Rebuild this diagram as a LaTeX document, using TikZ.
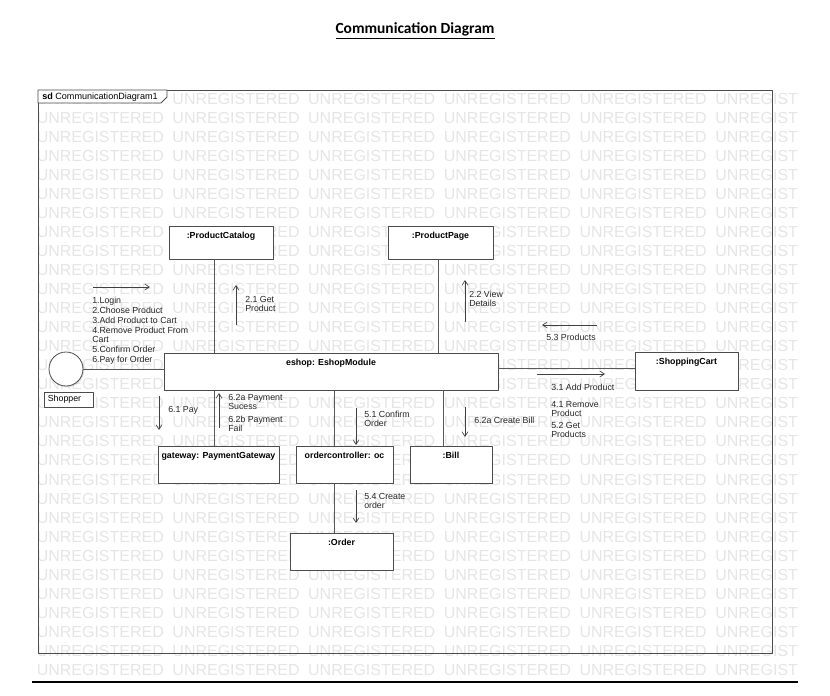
\documentclass[tikz,border=0pt]{standalone}
\usepackage{fontspec}
\setmainfont{Liberation Sans}
\newfontfamily\titlefont{Carlito}
\usetikzlibrary{arrows.meta,shadows}

\begin{document}
\begin{tikzpicture}[x=0.75pt, y=-0.75pt, line join=round,
    objsize/.style 2 args={minimum width=#1*0.75pt, minimum height=#2*0.75pt},
    obj/.style={draw=black!70, fill=white, line width=0.6pt, inner sep=0pt,
      drop shadow={shadow xshift=0.9pt, shadow yshift=-0.9pt, opacity=0.25}},
    objname/.style={anchor=north, inner sep=0pt, yshift=-4.7pt,
      font=\fontsize{6.6}{6.75}\selectfont\bfseries},
    link/.style={draw=black!65, line width=0.6pt},
    msg/.style={black!75, line width=0.5pt,
      -{Straight Barb[length=3.5pt, width=4.5pt]}},
    msgtext/.style={anchor=north west, inner sep=0pt, align=left, text=black!85,
      font=\fontsize{6.6}{6.75}\selectfont},
    watermark/.style={anchor=base west, inner sep=0pt, text=black!10,
      font=\fontsize{12}{12}\selectfont}]

  \useasboundingbox (0,0) rectangle (830,695);

  % Title
  \node[anchor=base, inner sep=0pt,
    font=\titlefont\fontsize{11.6}{14}\selectfont\bfseries] (title)
    at (415,34) {\underline{Communication Diagram}};

  % Watermark
  \begin{scope}
    \clip (34,91) rectangle (797,680);
    \foreach \r in {0,...,30}
      \foreach \c in {0,...,5}
        \node[watermark] (wm-\r-\c) at (36.5+135.7*\c, 104.8+19.01*\r) {UNREGISTERED};
  \end{scope}

  % Frame
  \draw[black!70, line width=0.6pt] (38,90) rectangle (772,653);
  \draw[black!70, line width=0.6pt, fill=white]
    (38,90) -- (167,90) -- (167,97) -- (161,103) -- (38,103) -- cycle;
  \node[anchor=west, inner sep=0pt, font=\fontsize{6.8}{7}\selectfont] (frame name)
    at (42,96.7) {\textbf{sd} CommunicationDiagram1};

  % Objects
  \node[obj, objsize={104}{33}, label={[objname]north:{:ProductCatalog}}] (catalog) at (221,242.5) {};
  \node[obj, objsize={105}{33}, label={[objname]north:{:ProductPage}}] (page) at (440.5,242.5) {};
  \node[obj, objsize={334}{37}, label={[objname]north:{eshop: EshopModule}}] (eshop) at (331,371.5) {};
  \node[obj, objsize={103}{38}, label={[objname]north:{:ShoppingCart}}] (cart) at (686.5,371) {};
  \node[obj, objsize={121}{37}, label={[objname]north:{gateway: PaymentGateway}}] (gateway) at (218.5,464.5) {};
  \node[obj, objsize={97}{37}, label={[objname]north:{ordercontroller: oc}}] (oc) at (344.5,464.5) {};
  \node[obj, objsize={82}{37}, label={[objname]north:{:Bill}}] (bill) at (451,464.5) {};
  \node[obj, objsize={103}{37}, label={[objname]north:{:Order}}] (order) at (341.5,551.5) {};

  % Actor
  \node[obj, circle, minimum size=34*0.75pt] (shopper) at (66,369) {};
  \node[obj, objsize={49}{15}, label={[anchor=west, inner sep=0pt, xshift=3pt,
    font=\fontsize{6.6}{6.75}\selectfont]west:Shopper}] (shopper name) at (68.5,399.5) {};

  % Links
  \draw[link] (shopper) -- (shopper -| eshop.west);
  \draw[link] ([xshift=-5.25pt]catalog.south) coordinate (l1) -- (l1 |- eshop.north);
  \draw[link] ([xshift=-1.9pt]page.south) coordinate (l2) -- (l2 |- eshop.north);
  \draw[link] ([yshift=2.6pt]eshop.east) coordinate (l3) -- (l3 -| cart.west);
  \draw[link] ([xshift=-3.4pt]gateway.north) coordinate (l4) -- (l4 |- eshop.south);
  \draw[link] ([xshift=-7.9pt]oc.north) coordinate (l5) -- (l5 |- eshop.south);
  \draw[link] ([xshift=-6pt]bill.north) coordinate (l6) -- (l6 |- eshop.south);
  \draw[link] ([xshift=-7.9pt]oc.south) coordinate (l7) -- (l7 |- order.north);

  % Messages
  \draw[msg] (93,287) -- (150,287);
  \node[msgtext] (m shopper) at (92,297) {1.Login\\[0.75pt]2.Choose Product\\[0.75pt]3.Add Product to Cart\\[0.75pt]4.Remove Product From\\Cart\\[0.75pt]5.Confirm Order\\[0.75pt]6.Pay for Order};

  \draw[msg] (236,325) -- (236,285);
  \node[msgtext] (m catalog) at (245,296) {2.1 Get\\Product};

  \draw[msg] (465,322) -- (465,280);
  \node[msgtext] (m page) at (469,291) {2.2 View\\Details};

  \draw[msg] (597,325) -- (542,325);
  \node[msgtext] (m products) at (546,334) {5.3 Products};

  \draw[msg] (537,374) -- (605,374);
  \node[msgtext] (m cart) at (551,383.5) {3.1 Add Product\\[6pt]4.1 Remove\\Product\\[2.25pt]5.2 Get\\Products};

  \draw[msg] (159,396) -- (159,430);
  \node[msgtext] (m pay) at (168,406) {6.1 Pay};

  \draw[msg] (219,428) -- (219,393);
  \node[msgtext] (m payment) at (228,394.5) {6.2a Payment\\Sucess\\[3pt]6.2b Payment\\Fail};

  \draw[msg] (356,408) -- (356,445);
  \node[msgtext] (m confirm) at (364,411) {5.1 Confirm\\Order};

  \draw[msg] (465,407) -- (465,437);
  \node[msgtext] (m bill) at (474,417) {6.2a Create Bill};

  \draw[msg] (356,490) -- (356,523);
  \node[msgtext] (m order) at (364,493.5) {5.4 Create\\order};

  % Bottom rule
  \draw[line width=1.5pt] (32,682) -- (798,682);

\end{tikzpicture}
\end{document}
